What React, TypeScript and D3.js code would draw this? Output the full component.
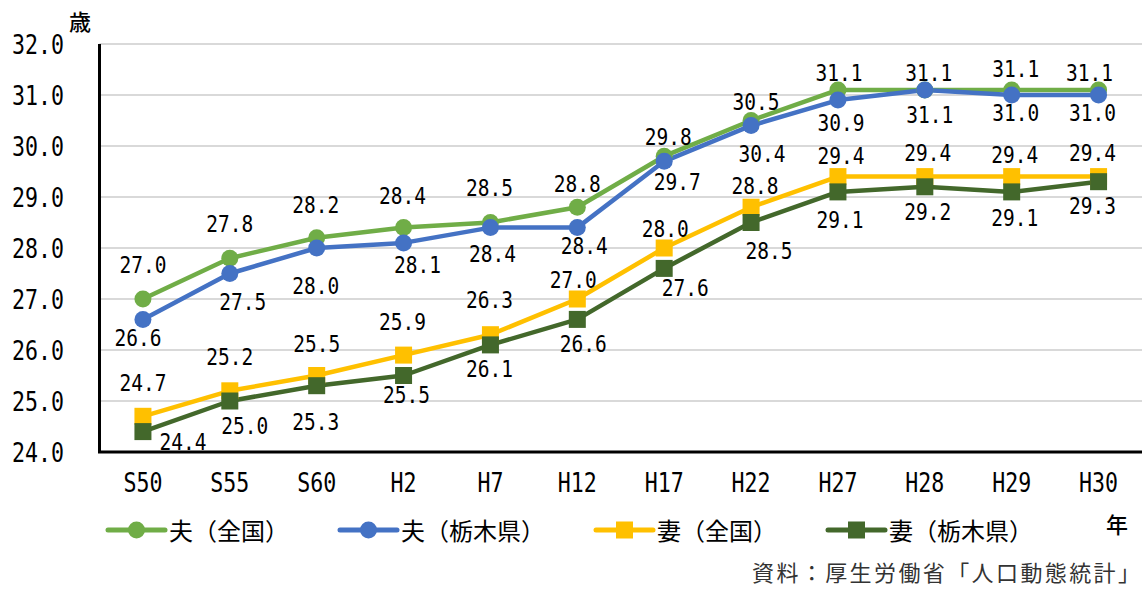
import React from "react";
import * as d3 from "d3";

const categories = ["S50", "S55", "S60", "H2", "H7", "H12", "H17", "H22", "H27", "H28", "H29", "H30"];
const husbandNational = [27.0, 27.8, 28.2, 28.4, 28.5, 28.8, 29.8, 30.5, 31.1, 31.1, 31.1, 31.1];
const husbandTochigi = [26.6, 27.5, 28.0, 28.1, 28.4, 28.4, 29.7, 30.4, 30.9, 31.1, 31.0, 31.0];
const wifeNational = [24.7, 25.2, 25.5, 25.9, 26.3, 27.0, 28.0, 28.8, 29.4, 29.4, 29.4, 29.4];
const wifeTochigi = [24.4, 25.0, 25.3, 25.5, 26.1, 26.6, 27.6, 28.5, 29.1, 29.2, 29.1, 29.3];
const yTicks = [24, 25, 26, 27, 28, 29, 30, 31, 32];
const seriesNames = ["夫（全国）", "夫（栃木県）", "妻（全国）", "妻（栃木県）"];

// label placement (offset from the marker, px)
const labelDx = [
  [0, 0, -1, -1, -1, 0, 4, 5, 1, 4, 4, -9],
  [-5, 13, -1, 14, 2, 7, 13, 11, 3, 5, 4, -6],
  [0, 0, 0, -1, -1, -4, 1, 4, 3, 3, 3, -6],
  [40, 15, -1, 3, -1, 6, 21, 18, 2, 3, 3, -6],
];
const labelDy = [
  [-34.5, -34.7, -33, -32.6, -35.5, -24, -20, -19.5, -18, -18, -22, -18],
  [18, 28, 37, 21, 26, 18, 20, 28, 22, 24, 17, 17],
  [-34, -34, -32, -34, -35, -20, -20, -22, -21, -24, -22, -24],
  [10, 24, 36, 19, 23, 24, 19, 28, 27, 25, 25, 24],
];

const colors = ["#70AD47", "#4472C4", "#FFC000", "#43682B"];
const shapes = ["circle", "circle", "square", "square"];

const W = 1142;
const H = 590;
const left = 99.5;
const right = 1142;
const top = 44;
const bottom = 452;

const MONO = "'DejaVu Sans Mono', monospace";
const JP = "'Noto Sans CJK JP', sans-serif";

export default function App() {
  const x = d3.scaleBand<string>().domain(categories).range([left, right]).padding(0);
  const y = d3.scaleLinear().domain([24, 32]).range([bottom, top]);
  const cx = (c: string) => (x(c) as number) + x.bandwidth() / 2;
  const allSeries = [husbandNational, husbandTochigi, wifeNational, wifeTochigi];
  const line = d3
    .line<number>()
    .x((_, i) => cx(categories[i]))
    .y((d) => y(d));

  const marker = (shape: string, px: number, py: number, color: string, key: string) =>
    shape === "circle" ? (
      <circle key={key} cx={px} cy={py} r={8.5} fill={color} />
    ) : (
      <rect key={key} x={px - 8.5} y={py - 8.5} width={17} height={17} fill={color} />
    );

  const legendX = [108, 340, 596, 828];
  const legendY = 530;

  return (
    <svg width={W} height={H} style={{ position: "absolute", left: 0, top: 0, background: "#fff" }}>
      {/* gridlines */}
      {yTicks.map((t) => (
        <line key={"g" + t} x1={left} x2={right} y1={y(t)} y2={y(t)} stroke="#D9D9D9" strokeWidth={2} />
      ))}
      {/* y tick labels */}
      {yTicks.map((t) => (
        <text
          key={"yt" + t}
          x={64}
          y={y(t) + 10}
          textAnchor="end"
          fontFamily={MONO}
          fontSize={27}
          textLength={52}
          lengthAdjust="spacingAndGlyphs"
          fill="#000"
        >
          {d3.format(".1f")(t)}
        </text>
      ))}
      <text x={69} y={30} fontFamily={JP} fontSize={22} fontWeight={500} fill="#000">
        歳
      </text>
      {/* axes */}
      <line x1={left} x2={left} y1={top} y2={bottom} stroke="#000" strokeWidth={3} />
      <line x1={left - 1.5} x2={right} y1={bottom} y2={bottom} stroke="#000" strokeWidth={3} />
      {/* x labels */}
      {categories.map((c) => (
        <text
          key={"xl" + c}
          x={cx(c)}
          y={492}
          textAnchor="middle"
          fontFamily={MONO}
          fontSize={26}
          textLength={c.length * 13}
          lengthAdjust="spacingAndGlyphs"
          fill="#000"
        >
          {c}
        </text>
      ))}
      {/* lines */}
      {allSeries.map((s, si) => (
        <path key={"l" + si} d={line(s) || ""} fill="none" stroke={colors[si]} strokeWidth={4.5} strokeLinejoin="round" />
      ))}
      {/* markers */}
      {allSeries.map((s, si) => (
        <g key={"m" + si}>{s.map((v, i) => marker(shapes[si], cx(categories[i]), y(v), colors[si], `m${si}-${i}`))}</g>
      ))}
      {/* data labels */}
      {allSeries.map((s, si) => (
        <g key={"dl" + si}>
          {s.map((v, i) => (
            <text
              key={`dl${si}-${i}`}
              x={cx(categories[i]) + labelDx[si][i]}
              y={y(v) + labelDy[si][i] + 8.6}
              textAnchor="middle"
              fontFamily={MONO}
              fontSize={23.5}
              textLength={47}
              lengthAdjust="spacingAndGlyphs"
              fill="#000"
            >
              {d3.format(".1f")(v)}
            </text>
          ))}
        </g>
      ))}
      {/* legend */}
      {seriesNames.map((n, si) => (
        <g key={"lg" + si}>
          <line x1={legendX[si]} x2={legendX[si] + 57} y1={legendY} y2={legendY} stroke={colors[si]} strokeWidth={5} strokeLinecap="round" />
          {marker(shapes[si], legendX[si] + 28.5, legendY, colors[si], "lm" + si)}
          <text x={legendX[si] + 61} y={legendY + 10} fontFamily={JP} fontSize={24} fill="#000">
            {n}
          </text>
        </g>
      ))}
      <text x={1106} y={533} fontFamily={JP} fontSize={22} fontWeight={500} fill="#000">
        年
      </text>
      <text x={752} y={581} fontFamily={JP} fontSize={22} textLength={388} lengthAdjust="spacing" fill="#333">
        資料：厚生労働省「人口動態統計」
      </text>
    </svg>
  );
}
